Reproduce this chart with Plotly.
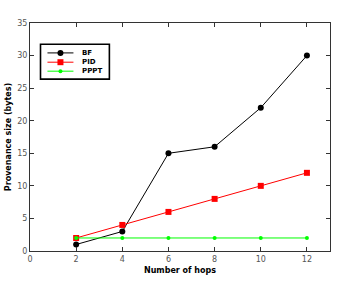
import plotly.graph_objects as go

hops = [2, 4, 6, 8, 10, 12]
bf = [1, 3, 15, 16, 22, 30]
pid = [2, 4, 6, 8, 10, 12]
pppt = [2, 2, 2, 2, 2, 2]

series_names = ["BF", "PID", "PPPT"]
series_colors = ["black", "#ff0000", "#00ff00"]
series_symbols = ["circle", "square", "circle"]
series_sizes = [6, 6, 4]
series_values = [bf, pid, pppt]

fig = go.Figure()
for name, vals, col, sym, sz in zip(series_names, series_values, series_colors, series_symbols, series_sizes):
    fig.add_trace(go.Scatter(x=hops, y=vals, name=name, mode="lines+markers",
                             line=dict(color=col, width=1),
                             marker=dict(symbol=sym, size=sz, color=col),
                             showlegend=False))

# custom compact legend (paper coordinates of the plot area)
lx0, lx1, ly1, ly0 = 0.035, 0.2646, 0.9068, 0.7537
fig.add_shape(type="rect", xref="paper", yref="paper", x0=lx0, x1=lx1, y0=ly0, y1=ly1,
              line=dict(color="black", width=1.6), fillcolor="white", layer="above")
rows_y = [0.8688, 0.8281, 0.7887]
for name, col, sym, sz, yy in zip(series_names, series_colors, series_symbols, series_sizes, rows_y):
    fig.add_shape(type="line", xref="paper", yref="paper", x0=0.0582, x1=0.1448, y0=yy, y1=yy,
                  line=dict(color=col, width=1), layer="above")
    fig.add_shape(type="circle" if sym == "circle" else "rect",
                  xref="paper", yref="paper", xsizemode="pixel", ysizemode="pixel",
                  xanchor=0.1015, yanchor=yy, x0=-sz / 2, x1=sz / 2, y0=-sz / 2, y1=sz / 2,
                  line=dict(color=col, width=0), fillcolor=col, layer="above")
    fig.add_annotation(x=0.1664, y=yy, xref="paper", yref="paper", text="<b>%s</b>" % name,
                       showarrow=False, xanchor="left", yanchor="middle",
                       font=dict(family="DejaVu Sans", size=7, color="black"))

axis_common = dict(showgrid=False, zeroline=False, showline=True, linecolor="#333",
                   linewidth=1, mirror="ticks", ticks="inside", ticklen=4,
                   tickcolor="#333", automargin=False,
                   tickfont=dict(family="DejaVu Sans", size=8, color="#555"))

fig.update_layout(
    width=346, height=284,
    margin=dict(l=30, r=16, t=23, b=33),
    paper_bgcolor="white", plot_bgcolor="white",
    showlegend=False,
    xaxis=dict(range=[0, 13], tickvals=[0, 2, 4, 6, 8, 10, 12],
               title=dict(text="Number of hops", standoff=4,
                          font=dict(family="DejaVu Sans", size=8, color="black", weight="bold")),
               **axis_common),
    yaxis=dict(range=[0, 35], dtick=5,
               title=dict(text="Provenance size (bytes)", standoff=4,
                          font=dict(family="DejaVu Sans", size=8, color="black", weight="bold")),
               **axis_common),
)

fig.write_html("out.html", config={"displayModeBar": False},
               post_script="document.body.style.margin='0';document.body.style.overflow='hidden';")
